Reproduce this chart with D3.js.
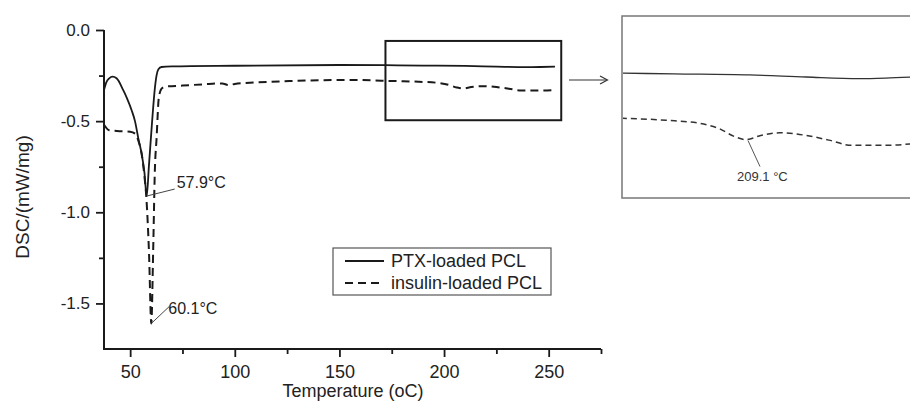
<!DOCTYPE html>
<html>
<head>
<meta charset="utf-8">
<script src="https://cdn.jsdelivr.net/npm/d3@7"></script>
<style>
  body { margin: 0; background: #fff; }
  svg { display: block; font-family: "Liberation Sans", Arial, sans-serif; }
</style>
</head>
<body>
<svg id="chart" width="910" height="403"></svg>
<script>
// DSC curves, temperature (°C) vs heat flow (mW/mg)
var ptxCurve = [
  [37.5,-0.33],[38.5,-0.29],[40,-0.265],[41.6,-0.256],[43.5,-0.265],[46.7,-0.33],
  [48.5,-0.375],[50.7,-0.44],[52.3,-0.5],[54,-0.6],[55.5,-0.68],[56.8,-0.78],[57.9,-0.911],
  [59,-0.74],[60.5,-0.5],[61.8,-0.32],[62.6,-0.25],[63.5,-0.215],[65,-0.203],[70,-0.2],
  [100,-0.196],[150,-0.192],[172,-0.193],[190,-0.195],[210,-0.197],[225,-0.201],
  [239,-0.204],[246,-0.203],[253,-0.201]
];
var insulinCurve = [
  [37.5,-0.52],[40,-0.55],[45,-0.555],[50,-0.558],[52.5,-0.57],[54,-0.61],[55.5,-0.68],
  [56.8,-0.8],[57.8,-0.93],[59,-1.22],[60.1,-1.61],[61,-1.21],[61.8,-0.77],[62.6,-0.6],
  [63.7,-0.37],[65,-0.322],[66.6,-0.311],[75,-0.305],[85,-0.298],[94,-0.293],[97,-0.302],
  [100,-0.296],[110,-0.288],[126,-0.28],[140,-0.276],[158,-0.274],[170,-0.278],[176,-0.28],
  [188,-0.284],[197,-0.29],[202,-0.3],[206,-0.315],[209.1,-0.321],[213,-0.313],
  [218,-0.308],[225,-0.313],[231,-0.322],[237,-0.332],[246,-0.332],[253,-0.329]
];
var seriesNames = ["PTX-loaded PCL", "insulin-loaded PCL"];
var peaks = [
  {t: 57.9, v: -0.911, label: "57.9\u00B0C"},
  {t: 60.1, v: -1.61, label: "60.1\u00B0C"}
];
var insetPeak = {t: 209.1, v: -0.321, label: "209.1 \u00B0C"};
var zoomT = [172, 256];
var zoomV = [-0.06, -0.495];
var xMajor = [50, 100, 150, 200, 250];
var xMinor = [75, 125, 175, 225, 275];
var yMajor = [0, -0.5, -1.0, -1.5];
var yMinor = [-0.25, -0.75, -1.25];

var svg = d3.select("#chart");
var ink = "#1a1a1a";

var x = d3.scaleLinear().domain([37.5, 275]).range([104, 601]);
var y = d3.scaleLinear().domain([-1.75, 0]).range([349, 30]);

var fmt = function(d){ return d3.format(".1f")(d).replace("\u2212", "-"); };

// minor ticks first
svg.append("g").attr("transform", "translate(0,349)")
  .call(d3.axisBottom(x).tickValues(xMinor).tickSize(5).tickFormat(""));
svg.append("g").attr("transform", "translate(104,0)")
  .call(d3.axisLeft(y).tickValues(yMinor).tickSize(5).tickFormat(""));

var gx = svg.append("g").attr("transform", "translate(0,349)")
  .call(d3.axisBottom(x).tickValues(xMajor).tickSize(8).tickSizeOuter(0).tickPadding(8));
var gy = svg.append("g").attr("transform", "translate(104,0)")
  .call(d3.axisLeft(y).tickValues(yMajor).tickSize(8).tickSizeOuter(0).tickPadding(6).tickFormat(fmt));

svg.selectAll(".domain").remove();
svg.append("line").attr("x1", 104).attr("x2", 104).attr("y1", 30).attr("y2", 349)
  .attr("stroke", ink).attr("stroke-width", 2);
svg.append("line").attr("x1", 103).attr("x2", 601).attr("y1", 349).attr("y2", 349)
  .attr("stroke", ink).attr("stroke-width", 2);
svg.selectAll(".tick line").attr("stroke", ink).attr("stroke-width", 1.8);
gx.selectAll("text").attr("font-size", 18).attr("fill", "#222");
gy.selectAll("text").attr("font-size", 17).attr("fill", "#222");

svg.append("text").attr("x", 353).attr("y", 397).attr("text-anchor", "middle")
  .attr("font-size", 18).attr("fill", "#222").text("Temperature (oC)");
svg.append("text").attr("transform", "translate(29,197) rotate(-90)")
  .attr("text-anchor", "middle").attr("font-size", 19).attr("fill", "#222").text("DSC/(mW/mg)");

// main curves
var line = d3.line().x(d => x(d[0])).y(d => y(d[1])).curve(d3.curveMonotoneX);
svg.append("path").datum(ptxCurve).attr("d", line)
  .attr("fill", "none").attr("stroke", ink).attr("stroke-width", 1.8);
svg.append("path").datum(insulinCurve).attr("d", line)
  .attr("fill", "none").attr("stroke", ink).attr("stroke-width", 2)
  .attr("stroke-dasharray", "8,5");

// peak labels
var labelOffsets = [[28, -7, 30, -8], [18, -17, 17, -9]];
peaks.forEach(function(p, i){
  var px = x(p.t), py = y(p.v), o = labelOffsets[i];
  svg.append("line").attr("x1", px).attr("y1", py).attr("x2", px + o[0]).attr("y2", py + o[1])
    .attr("stroke", "#444").attr("stroke-width", 1);
  svg.append("text").attr("x", px + o[2]).attr("y", py + o[3])
    .attr("font-size", 16).attr("fill", "#222").text(p.label);
});

// legend
var lg = svg.append("g");
lg.append("rect").attr("x", 333).attr("y", 248).attr("width", 218).attr("height", 47)
  .attr("fill", "#fff").attr("stroke", "#555").attr("stroke-width", 1.2);
seriesNames.forEach(function(name, i){
  var ly = 261 + i * 22;
  lg.append("line").attr("x1", 345).attr("x2", 384).attr("y1", ly).attr("y2", ly)
    .attr("stroke", ink).attr("stroke-width", 1.8)
    .attr("stroke-dasharray", i ? "8,5" : null);
  lg.append("text").attr("x", 391).attr("y", ly + 6).attr("font-size", 18)
    .attr("fill", "#222").text(name);
});

// zoom box
svg.append("rect").attr("x", x(zoomT[0])).attr("y", y(zoomV[0]))
  .attr("width", x(zoomT[1]) - x(zoomT[0])).attr("height", y(zoomV[1]) - y(zoomV[0]))
  .attr("fill", "none").attr("stroke", ink).attr("stroke-width", 2);

// arrow
svg.append("line").attr("x1", 569).attr("x2", 607).attr("y1", 80).attr("y2", 80)
  .attr("stroke", "#333").attr("stroke-width", 1.2);
svg.append("path").attr("d", "M600,76 L607.5,80 L600,84").attr("fill", "none")
  .attr("stroke", "#333").attr("stroke-width", 1.2);

// inset
var xi = d3.scaleLinear().domain([176.3, 253]).range([622, 912]);
var yi = d3.scaleLinear().domain([-0.433, -0.084]).range([198, 16]);
svg.append("clipPath").attr("id", "inclip").append("rect")
  .attr("x", 623).attr("y", 17).attr("width", 300).attr("height", 180);
svg.append("rect").attr("x", 622).attr("y", 16).attr("width", 300).attr("height", 182)
  .attr("fill", "#fff").attr("stroke", "#777").attr("stroke-width", 1.5);
var lineIn = d3.line().x(d => xi(d[0])).y(d => yi(d[1])).curve(d3.curveMonotoneX);
var ig = svg.append("g").attr("clip-path", "url(#inclip)");
ig.append("path").datum(ptxCurve.filter(d => d[0] >= 160)).attr("d", lineIn)
  .attr("fill", "none").attr("stroke", "#333").attr("stroke-width", 1.3);
ig.append("path").datum(insulinCurve.filter(d => d[0] >= 176)).attr("d", lineIn)
  .attr("fill", "none").attr("stroke", "#333").attr("stroke-width", 1.5)
  .attr("stroke-dasharray", "6,4");
var ipx = xi(insetPeak.t), ipy = yi(insetPeak.v);
svg.append("line").attr("x1", ipx + 2).attr("y1", ipy + 1).attr("x2", ipx + 14).attr("y2", ipy + 27)
  .attr("stroke", "#555").attr("stroke-width", 1);
svg.append("text").attr("x", ipx - 9).attr("y", ipy + 41).attr("font-size", 13)
  .attr("fill", "#333").text(insetPeak.label);
</script>
</body>
</html>
